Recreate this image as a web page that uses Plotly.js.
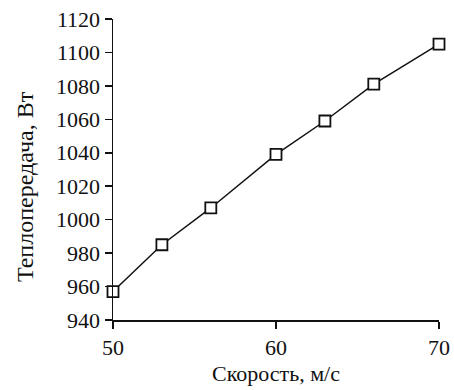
<!DOCTYPE html>
<html>
<head>
<meta charset="utf-8">
<script src="https://cdn.plot.ly/plotly-3.0.1.min.js"></script>
<style>html,body{margin:0;padding:0;background:#fff;}#chart{width:454px;height:390px;}</style>
</head>
<body>
<div id="chart"></div>
<script>
const speed = [50, 53, 56, 60, 63, 66, 70];
const heat = [957, 985, 1007, 1039, 1059, 1081, 1105];
const xTicks = [50, 60, 70];
const yTicks = [940, 960, 980, 1000, 1020, 1040, 1060, 1080, 1100, 1120];
const xTitle = 'Скорость, м/с';
const yTitle = 'Теплопередача, Вт';

function F(s) { return {family: 'Liberation Serif', size: s || 22, color: '#111'}; }

Plotly.newPlot('chart', [{
  x: speed, y: heat,
  type: 'scatter', mode: 'lines+markers',
  line: {color: '#111', width: 1.5},
  marker: {symbol: 'square', size: 11, color: '#fff', line: {color: '#111', width: 1.8}},
  cliponaxis: false,
  showlegend: false
}], {
  width: 454, height: 390,
  margin: {l: 113, r: 15, t: 19, b: 70},
  paper_bgcolor: '#fff', plot_bgcolor: '#fff',
  font: F(),
  xaxis: {
    range: [50, 70], tickmode: 'array', tickvals: xTicks, ticktext: xTicks.map(String),
    showgrid: false, zeroline: false, showline: true, linecolor: '#111', linewidth: 1.5,
    ticks: 'outside', ticklen: 7, tickwidth: 1.5, tickcolor: '#111',
    tickfont: F(),
    title: {text: xTitle, font: F(), standoff: 6}
  },
  yaxis: {
    range: [940, 1120], tickmode: 'array', tickvals: yTicks, ticktext: yTicks.map(String),
    showgrid: false, zeroline: false, showline: true, linecolor: '#111', linewidth: 1.5,
    ticks: 'outside', ticklen: 7, tickwidth: 1.5, tickcolor: '#111',
    tickfont: F()
  },
  annotations: [{
    text: yTitle, xref: 'paper', yref: 'paper', x: -0.27, y: 0.445,
    xanchor: 'center', yanchor: 'middle', textangle: -90, showarrow: false,
    font: F(24)
  }]
}, {displayModeBar: false, staticPlot: true});
</script>
</body>
</html>
